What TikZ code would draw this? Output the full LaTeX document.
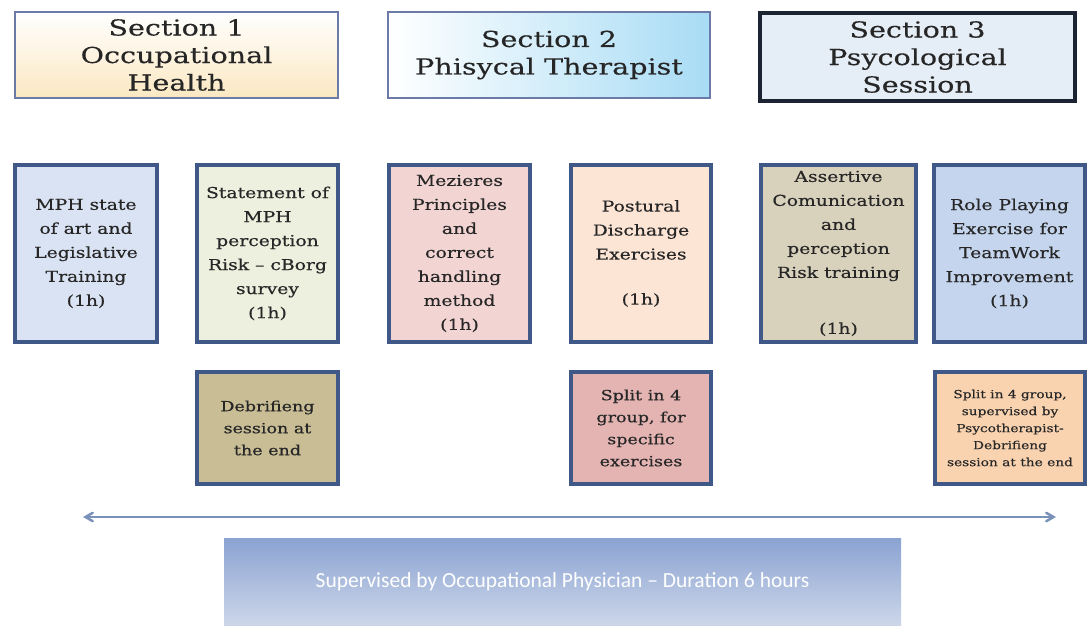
\documentclass[tikz,border=0pt]{standalone}
\usepackage{fontspec}
\setmainfont{DejaVu Serif}
\newfontfamily\headfont{DejaVu Serif}[FakeStretch=1.3,FakeBold=0.3]
\newfontfamily\boxfont{DejaVu Serif}[FakeStretch=1.25,FakeBold=0.4]
\newfontfamily\crewfont{Carlito}
\usepackage{tikz}
\usetikzlibrary{arrows}
\definecolor{secline}{HTML}{6B7AA6}
\definecolor{seconelow}{HTML}{FBE8C2}
\definecolor{sectworight}{HTML}{A8DCF5}
\definecolor{secthreefill}{HTML}{E5EDF6}
\definecolor{secthreeline}{HTML}{1C2333}
\definecolor{boxline}{HTML}{3F5887}
\definecolor{mphfill}{HTML}{DAE3F3}
\definecolor{cborgfill}{HTML}{EDF0DE}
\definecolor{mezfill}{HTML}{F2D5D2}
\definecolor{postfill}{HTML}{FCE5D5}
\definecolor{assfill}{HTML}{D8D1BC}
\definecolor{rolefill}{HTML}{C5D5EE}
\definecolor{debfill}{HTML}{C8BD95}
\definecolor{splitfill}{HTML}{E4B4B3}
\definecolor{psyfill}{HTML}{F9D2B0}
\definecolor{arrowcol}{HTML}{7A91BA}
\definecolor{crewtop}{HTML}{8BA3D2}
\definecolor{crewbot}{HTML}{CDD7E9}
\definecolor{ink}{HTML}{262626}

\begin{document}
\begin{tikzpicture}[x=1pt,y=-1pt]
\tikzset{secbox/.style={draw=secline,line width=1.5pt,align=center,inner sep=0pt,text=ink,font=\headfont\fontsize{22}{27.5}\selectfont}}
\tikzset{actbox/.style={draw=boxline,line width=3.5pt,align=center,inner sep=0pt,minimum height=177pt,text=ink,font=\boxfont\fontsize{15}{24}\selectfont}}
\tikzset{notebox/.style={actbox,minimum height=112pt}}
\fill[white] (0,0) rectangle (1087,626);
\useasboundingbox (0,0) rectangle (1087,626);
\node[secbox,minimum width=323pt,minimum height=86pt,top color=white,bottom color=seconelow] (sec1) at (176.5,55) {Section 1\\Occupational\\Health};
\node[secbox,minimum width=322pt,minimum height=86pt,left color=white,right color=sectworight] (sec2) at (549,55) {Section 2\\Phisycal Therapist};
\node[secbox,draw=secthreeline,line width=4pt,fill=secthreefill,minimum width=315pt,minimum height=88pt] (sec3) at (917.5,57) {Section 3\\Psycological\\Session};
\node[actbox,fill=mphfill,minimum width=142pt] (mph) at (86,253.5) {MPH state\\of art and\\Legislative\\Training\\(1h)};
\node[actbox,fill=cborgfill,minimum width=141pt] (cborg) at (267.5,253.5) {Statement of\\MPH\\perception\\Risk – cBorg\\survey\\(1h)};
\node[actbox,fill=mezfill,minimum width=141pt] (mezieres) at (459.5,253.5) {Mezieres\\Principles\\and\\correct\\handling\\method\\(1h)};
\node[actbox,fill=postfill,minimum width=140pt] (postural) at (641,253.5) {Postural\\Discharge\\Exercises\\[21pt](1h)};
\node[actbox,fill=assfill,minimum width=155pt] (assertive) at (838.5,253.5) {Assertive\\Comunication\\and\\perception\\Risk training\\[32pt](1h)};
\node[actbox,fill=rolefill,minimum width=151pt] (role) at (1009.5,253.5) {Role Playing\\Exercise for\\TeamWork\\Improvement\\(1h)};
\node[notebox,fill=debfill,minimum width=141pt,font=\boxfont\fontsize{14}{22}\selectfont] (debrief) at (267.5,428) {Debrifieng\\session at\\the end};
\node[notebox,fill=splitfill,minimum width=140pt,font=\boxfont\fontsize{14}{22}\selectfont] (split) at (641,428) {Split in 4\\group, for\\specific\\exercises};
\node[notebox,fill=psyfill,minimum width=150pt,font=\boxfont\fontsize{11}{17}\selectfont] (psysplit) at (1010,428) {Split in 4 group,\\supervised by\\Psycotherapist-\\Debrifieng\\session at the end};
\coordinate (startday) at (83,517);
\coordinate (endday) at (1056,517);
\draw[arrowcol,line width=2.5pt,>=angle 60,<->] (startday) -- (endday);
\node[top color=crewtop,bottom color=crewbot,minimum width=677pt,minimum height=88pt,inner sep=0pt,text=white,font=\crewfont\fontsize{21.5}{26}\selectfont] (crew) at (562.5,582) {Supervised by Occupational Physician – Duration 6 hours};
\end{tikzpicture}
\end{document}
